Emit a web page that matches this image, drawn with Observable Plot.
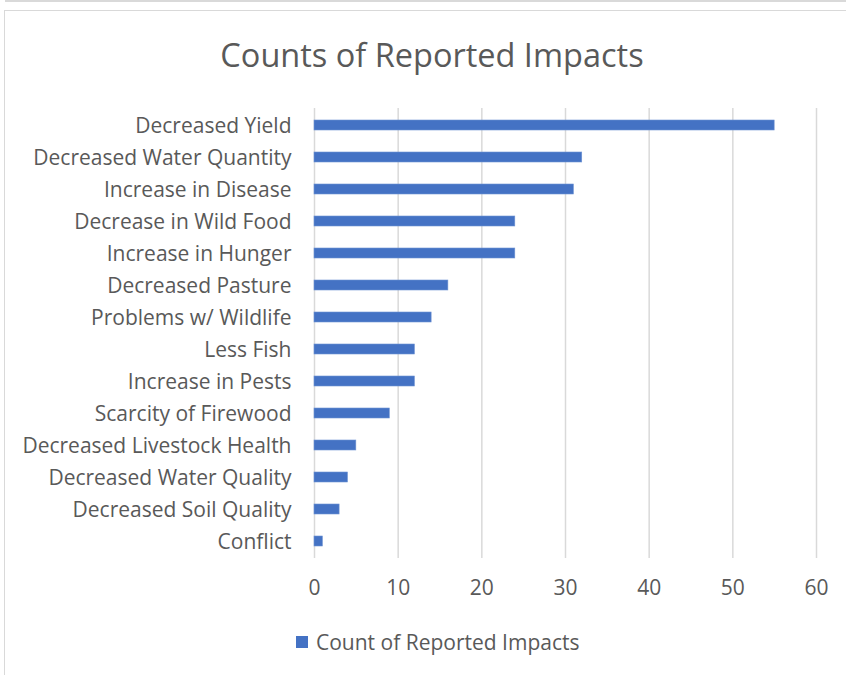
<!DOCTYPE html>
<html>
<head>
<meta charset="utf-8">
<script src="https://cdn.jsdelivr.net/npm/d3@7"></script>
<script src="https://cdn.jsdelivr.net/npm/@observablehq/plot@0.6"></script>
<style>
  html, body { margin: 0; padding: 0; background: #fff; }
  body { width: 846px; height: 675px; position: relative; overflow: hidden;
         font-family: "Open Sans", "Noto Sans", sans-serif; color: #595959; }
  #topline { position: absolute; left: 5px; top: 0px; width: 841px; height: 2px; background: #d9d9d9; }
  #frame { position: absolute; left: 4px; top: 10px; width: 860px; height: 700px;
           border: 1px solid #d9d9d9; box-sizing: border-box; }
  #title { position: absolute; left: 0; width: 864px; top: 32px; text-align: center;
           font-size: 32.5px; color: #595959; }
  #chart { position: absolute; left: 0; top: 95px; }
  #legend { position: absolute; top: 628px; left: 296px; display: flex; align-items: center;
            font-size: 21px; color: #595959; }
  #legend .sw { width: 12px; height: 12px; background: #4472C4; margin-right: 8px; }
</style>
</head>
<body>
<div id="topline"></div>
<div id="frame"></div>
<div id="title">Counts of Reported Impacts</div>
<div id="chart"></div>
<div id="legend"><span class="sw"></span><span>Count of Reported Impacts</span></div>
<script>
// Reported impact categories, top to bottom
const impacts = [
  "Decreased Yield",
  "Decreased Water Quantity",
  "Increase in Disease",
  "Decrease in Wild Food",
  "Increase in Hunger",
  "Decreased Pasture",
  "Problems w/ Wildlife",
  "Less Fish",
  "Increase in Pests",
  "Scarcity of Firewood",
  "Decreased Livestock Health",
  "Decreased Water Quality",
  "Decreased Soil Quality",
  "Conflict"
];
// Number of times each impact was reported
const counts = [55, 32, 31, 24, 24, 16, 14, 12, 12, 9, 5, 4, 3, 1];
// Value axis ticks
const xTicks = [0, 10, 20, 30, 40, 50, 60];

const data = impacts.map((impact, i) => ({impact, count: counts[i]}));

const chart = Plot.plot({
  width: 846,
  height: 510,
  marginLeft: 314,
  marginRight: 30,
  marginTop: 13,
  marginBottom: 47,
  style: {fontFamily: "'Open Sans', 'Noto Sans', sans-serif", fontSize: "21px", color: "#595959", background: "transparent"},
  x: {domain: [0, 60], ticks: xTicks, tickSize: 0, tickPadding: 22, label: null, grid: false},
  y: {domain: impacts, paddingInner: 0.69, paddingOuter: 0.345, tickSize: 0, tickPadding: 23, label: null},
  marks: [
    Plot.ruleX(xTicks, {stroke: "#d9d9d9", strokeWidth: 1.5, strokeOpacity: 1}),
    Plot.barX(data, {x: "count", y: "impact", fill: "#4472C4", stroke: "#6f93d3", strokeWidth: 0.6}),
    Plot.axisX({ticks: xTicks, tickSize: 0, tickPadding: 22, fill: "#595959", fontSize: 21}),
    Plot.axisY({tickSize: 0, tickPadding: 23, dy: 1, fill: "#595959", fontSize: 21})
  ]
});
document.getElementById("chart").appendChild(chart);
</script>
</body>
</html>
